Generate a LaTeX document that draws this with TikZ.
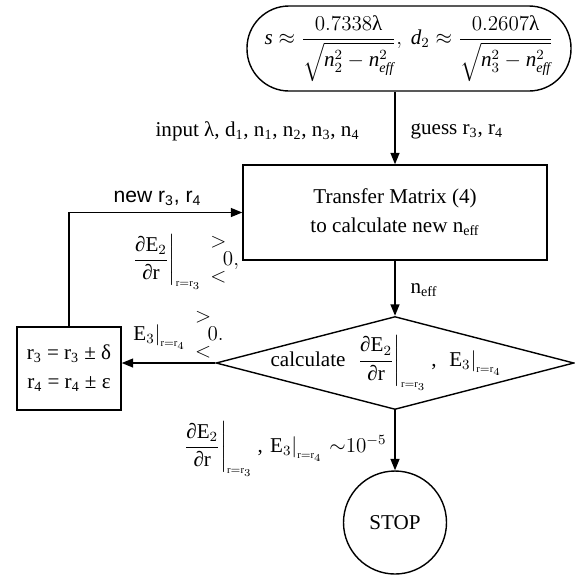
\documentclass[tikz,border=0pt]{standalone}
\usepackage{amsmath,amssymb}
\usepackage{fontspec}
\setmainfont{Liberation Serif}
\newfontfamily\arialfont{Liberation Sans}
\usepackage{tikz}
\usetikzlibrary{arrows.meta,positioning,calc,shapes.geometric}

\newcommand{\dEdr}[1]{\left.\dfrac{\text{∂E}_2}{\text{∂r}}\right|_{\scriptscriptstyle\mathrm{r}{=}\mathrm{r}_{#1}}}
\newcommand{\Ethr}{\left.\mathrm{E}_3\right|_{\scriptscriptstyle\mathrm{r}{=}\mathrm{r}_4}}
\newcommand{\gtlt}{\begin{array}{@{}c@{}}>\\[5pt]<\end{array}}
\newcommand{\neff}{\mathit{n}_{\mathit{eff}}}

\begin{document}
\begin{tikzpicture}[
  font=\fontsize{12}{14.5}\selectfont,
  line width=0.8pt,
  flow/.style={-{Triangle[length=2.3mm,width=1.8mm]}},
  startbox/.style={draw,rounded corners=0.84cm,minimum width=6.48cm,minimum height=1.7cm},
  procbox/.style={draw,align=center,minimum width=6.08cm,minimum height=1.9cm},
  decide/.style={draw,shape=diamond,inner sep=0pt,minimum width=7.16cm,minimum height=1.86cm},
  updbox/.style={draw,align=center,minimum width=2.08cm,minimum height=1.66cm},
  stopnode/.style={draw,circle,minimum size=2.06cm,inner sep=0pt}]
 \useasboundingbox (0,0) rectangle (11.5,-11.48);
 \node[startbox] (top) at (8.18,-0.97)
   {$\mathit{s}\approx\dfrac{0.7338\text{λ}}{\sqrt{\mathit{n}_2^2-\neff^2}},\ \mathit{d}_2\approx\dfrac{0.2607\text{λ}}{\sqrt{\mathit{n}_3^2-\neff^2}}$};
 \node[procbox] (trans) at (7.9,-4.25)
   {Transfer Matrix (4)\\[2pt] to calculate new n\textsubscript{eff}};
 \node[decide] (dia) at (7.9,-7.26) {};
 \node (calc) at (7.72,-7.26) {calculate\ \ $\dEdr{3}$\ ,\ \ $\Ethr$};
 \node[updbox] (upd) at (1.38,-7.37)
   {r\textsubscript{3} = r\textsubscript{3} ± δ\\[2pt] r\textsubscript{4} = r\textsubscript{4} ± ε};
 \node[stopnode] (stop) at (7.9,-10.45) {STOP};

 \node[anchor=east] (inp) at (7.32,-2.62)
   {input λ, d\textsubscript{1}, n\textsubscript{1}, n\textsubscript{2}, n\textsubscript{3}, n\textsubscript{4}};
 \node[anchor=west] (guess) at (8.08,-2.62) {guess r\textsubscript{3}, r\textsubscript{4}};
 \node[font=\arialfont\fontsize{12}{14.5}\selectfont] (newr) at (3.15,-3.97)
   {new r\textsubscript{3}, r\textsubscript{4}};
 \node (cond1) at (3.7,-5.2) {$\dEdr{3}\;\gtlt\!0,$};
 \node (cond2) at (3.55,-6.7) {$\Ethr\;\gtlt\!0.$};
 \node[anchor=west] (neffl) at (8.08,-5.8) {n\textsubscript{eff}};
 \node[anchor=east] (conv) at (7.86,-8.98) {$\dEdr{3}$\ ,\ $\Ethr\,{\sim}10^{-5}$};

 \draw[flow] (top.south -| trans.north) -- (trans.north);
 \draw[flow] (trans.south) -- (dia.north);
 \draw[flow] (dia.west) -- (dia.west -| upd.east);
 \draw[flow] (upd.north) |- (trans.west);
 \draw[flow] (dia.south) -- (stop.north);
\end{tikzpicture}
\end{document}
